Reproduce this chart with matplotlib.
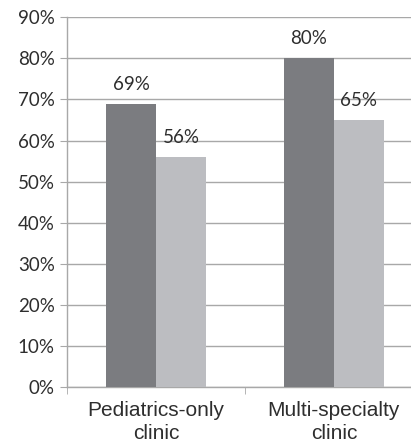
import matplotlib
matplotlib.use("Agg")
import matplotlib.pyplot as plt
import numpy as np

categories = ["Pediatrics-only\nclinic", "Multi-specialty\nclinic"]
series_dark = [69, 80]
series_light = [56, 65]
yticks = [0, 10, 20, 30, 40, 50, 60, 70, 80, 90]

dark = "#7b7c80"
light = "#bcbdc1"
grid = "#a8a8a8"
text = "#2e2e2e"
num_font = "Lato"
cat_font = "Liberation Sans"

fig = plt.figure(figsize=(4.11, 4.44), dpi=100)
ax = fig.add_axes([0.1638, 0.1284, 0.8647, 0.8326])

x = np.arange(len(categories))
w = 0.28
b1 = ax.bar(x - w / 2, series_dark, w, color=dark, zorder=3)
b2 = ax.bar(x + w / 2, series_light, w, color=light, zorder=3)

for bars, vals in ((b1, series_dark), (b2, series_light)):
    for r, v in zip(bars, vals):
        ax.annotate(f"{v}%", (r.get_x() + r.get_width() / 2, v),
                    xytext=(0, 14), textcoords="offset points",
                    ha="center", va="center", fontsize=13.5,
                    family=num_font, color=text, zorder=4)

ax.set_ylim(0, 90)
ax.set_xlim(-0.5, 1.5)
ax.set_yticks(yticks)
ax.set_yticklabels([f"{t}%" for t in yticks], family=num_font, fontsize=13.5, color=text)
ax.yaxis.grid(True, color=grid, lw=1, zorder=0)
ax.tick_params(axis="y", length=5, color=grid, pad=4)

ax.set_xticks(x)
ax.set_xticklabels(categories, family=cat_font, fontsize=15,
                   color=text, linespacing=1.25)
ax.tick_params(axis="x", which="major", length=0, pad=10)
ax.set_xticks([-0.5, 0.5, 1.5], minor=True)
ax.tick_params(axis="x", which="minor", length=5, color=grid)

for s in ("top", "right"):
    ax.spines[s].set_visible(False)
for s in ("left", "bottom"):
    ax.spines[s].set_color(grid)
    ax.spines[s].set_linewidth(1)

fig.savefig("out.png", dpi=100)
